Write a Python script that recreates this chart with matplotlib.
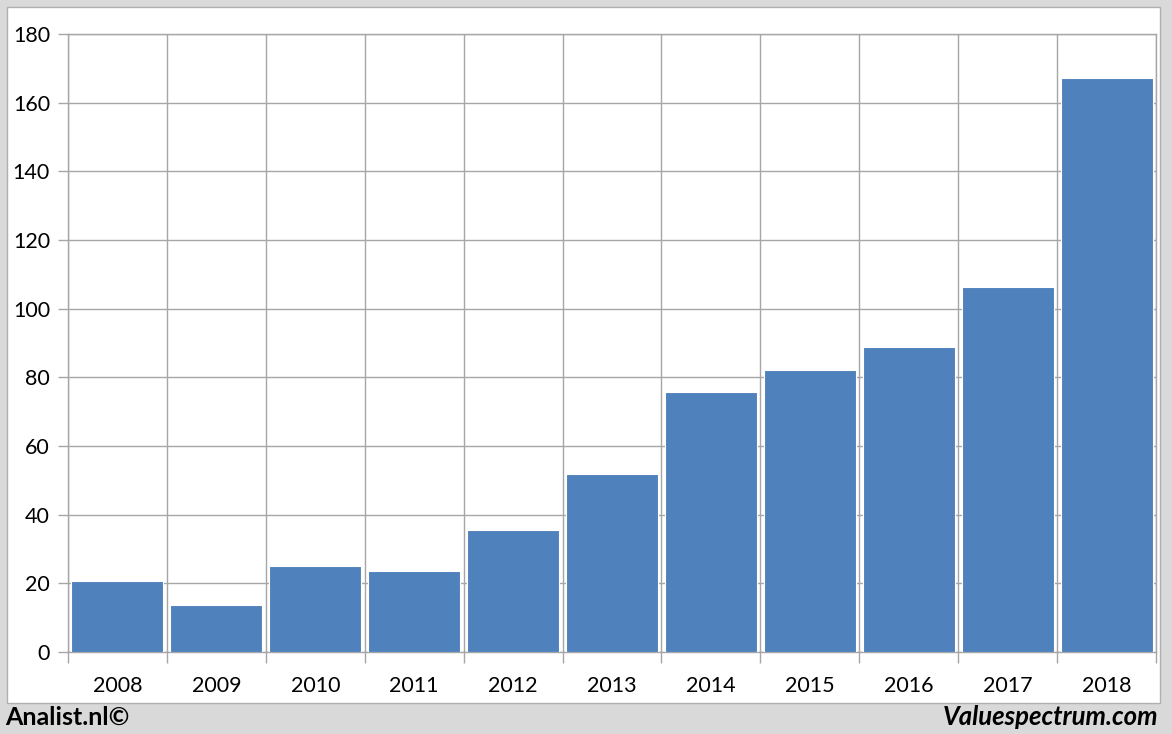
import numpy as np
import matplotlib.pyplot as plt
from matplotlib.patches import Rectangle

# ---- data ----
years = ['2008', '2009', '2010', '2011', '2012', '2013',
         '2014', '2015', '2016', '2017', '2018']
values = [20.7, 13.7, 25.0, 23.6, 35.5, 51.8, 75.7, 82.1, 88.8, 106.4, 167.2]
yticks = [0, 20, 40, 60, 80, 100, 120, 140, 160, 180]

BAR = '#4f81bd'
GRID = '#a6a6a6'
plt.rcParams['font.family'] = ['Lato', 'DejaVu Sans']

fig = plt.figure(figsize=(11.72, 7.34), dpi=100)
fig.patch.set_facecolor('#d9d9d9')

# white inner panel (behind the axes)
fig.patches.append(Rectangle((7 / 1172, 1 - 703 / 734), 1153 / 1172, 696 / 734,
                             transform=fig.transFigure, facecolor='white',
                             edgecolor='#b0b0b0', linewidth=1, zorder=-10))

ax = fig.add_axes([68 / 1172, 1 - 652 / 734, 1088 / 1172, 618 / 734])
ax.set_facecolor('none')

x = np.arange(len(years))
ax.bar(x, values, width=0.93, color=BAR, edgecolor='white', linewidth=0.8, zorder=3)

ax.set_xlim(-0.5, len(years) - 0.5)
ax.set_ylim(0, 180)
ax.set_yticks(yticks)
ax.set_yticklabels([str(v) for v in yticks], fontsize=15.5)
ax.set_xticks(x)
ax.set_xticklabels(years, fontsize=15.5)
ax.set_xticks(np.arange(len(years) + 1) - 0.5, minor=True)

ax.tick_params(axis='x', which='major', length=0, pad=17.5)
ax.tick_params(axis='x', which='minor', length=8, color=GRID, width=1)
ax.tick_params(axis='y', length=7, color=GRID, width=1, pad=6)

ax.grid(axis='y', which='major', color=GRID, linewidth=1, zorder=0)
ax.grid(axis='x', which='minor', color=GRID, linewidth=1, zorder=0)
ax.set_axisbelow(True)

for s in ['top', 'left', 'right', 'bottom']:
    ax.spines[s].set_color(GRID)
    ax.spines[s].set_linewidth(1)

# footer
fig.text(5 / 1172, 1 - 717 / 734, 'Analist.nl©', fontsize=18, fontweight='bold',
         ha='left', va='center')
fig.text(1158 / 1172, 1 - 717 / 734, 'Valuespectrum.com', fontsize=18.5,
         fontweight='bold', fontstyle='italic', ha='right', va='center')

fig.savefig('out.png', dpi=100, facecolor=fig.get_facecolor())
